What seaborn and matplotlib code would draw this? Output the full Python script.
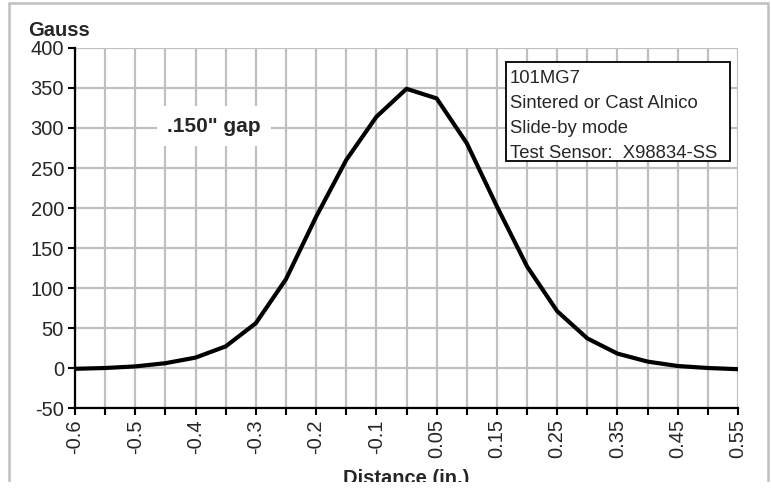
import matplotlib
matplotlib.use("Agg")
import matplotlib.pyplot as plt
import seaborn as sns
import pandas as pd
from matplotlib.patches import Rectangle

# category axis (Excel style): -0.05 is not in the sheet, 0 sits next to -0.1
distance = ["-0.6", "-0.55", "-0.5", "-0.45", "-0.4", "-0.35", "-0.3", "-0.25",
            "-0.2", "-0.15", "-0.1", "0", "0.05", "0.1", "0.15", "0.2", "0.25",
            "0.3", "0.35", "0.4", "0.45", "0.5", "0.55"]
gauss = [-1, 0, 2, 6, 13, 27, 56, 111, 189, 260, 314, 349, 337, 281, 202,
         127, 71, 37, 18, 8, 2.5, 0, -1.5]
shown_labels = ["-0.6", "-0.5", "-0.4", "-0.3", "-0.2", "-0.1", "0.05",
                "0.15", "0.25", "0.35", "0.45", "0.55"]
y_ticks = [-50, 0, 50, 100, 150, 200, 250, 300, 350, 400]
gap_label = ".150\" gap"
info_lines = ["101MG7", "Sintered or Cast Alnico", "Slide-by mode",
              "Test Sensor:  X98834-SS"]

sns.set_style("white")
plt.rcParams["font.family"] = ["Liberation Sans", "DejaVu Sans"]

fig = plt.figure(figsize=(7.71, 4.90), dpi=100)
ax = fig.add_axes([75 / 771, 82 / 490, 663 / 771, 360 / 490])

df = pd.DataFrame({"Distance": distance, "Gauss": gauss})
sns.lineplot(data=df, x="Distance", y="Gauss", sort=False, estimator=None,
             color="black", lw=3.0, ax=ax, zorder=3)
for ln in ax.get_lines():
    ln.set_solid_joinstyle("round")

ax.set_xlim(0, len(distance) - 1)
ax.set_ylim(-50, 400)
ax.set_xticks(range(len(distance)))
ax.set_xticklabels([d if d in shown_labels else "" for d in distance],
                   rotation=90, fontsize=14.5)
ax.set_yticks(y_ticks)
ax.set_yticklabels([str(v) for v in y_ticks], fontsize=14.5)
ax.grid(True, color="#c0c0c0", lw=1.6)
ax.set_axisbelow(True)
ax.tick_params(axis="both", direction="out", length=5, width=1.5,
               color="black", pad=3, bottom=True, left=True)
for side in ["top", "right"]:
    ax.spines[side].set_visible(False)
for side in ["left", "bottom"]:
    ax.spines[side].set_color("black")
    ax.spines[side].set_linewidth(1.6)
ax.set_xlabel("")
ax.set_ylabel("")

ax.text(4.62, 302, gap_label, fontsize=15, fontweight="bold", ha="center",
        va="center", zorder=4,
        bbox=dict(boxstyle="square,pad=0.5", fc="white", ec="none"))

# info box
ax.add_patch(Rectangle((0.6495, 0.686), 0.3385, 0.275, transform=ax.transAxes,
                       fc="white", ec="black", lw=1.3, zorder=4, clip_on=False))
ax.text(0.656, 0.94, "\n".join(info_lines), transform=ax.transAxes,
        fontsize=13.3, ha="left", va="top", linespacing=1.62, zorder=5)

fig.text(28 / 771, 1 - 36 / 490, "Gauss", fontsize=14.5, fontweight="bold",
         ha="left", va="baseline")
fig.text(406 / 771, 6 / 490, "Distance (in.)", fontsize=14.5,
         fontweight="bold", ha="center", va="baseline")

# outer chart frame, cut off at the bottom like the original export
fig.patches.append(Rectangle((9 / 771, -0.05), 759 / 771, 1.044,
                             transform=fig.transFigure, fill=False,
                             ec="#c0c0c0", lw=1.8, zorder=1))
fig.patches.append(Rectangle((0, 0), 1, 8 / 490, transform=fig.transFigure,
                             fc="white", ec="none", zorder=10))

fig.savefig("out.png", dpi=100)
